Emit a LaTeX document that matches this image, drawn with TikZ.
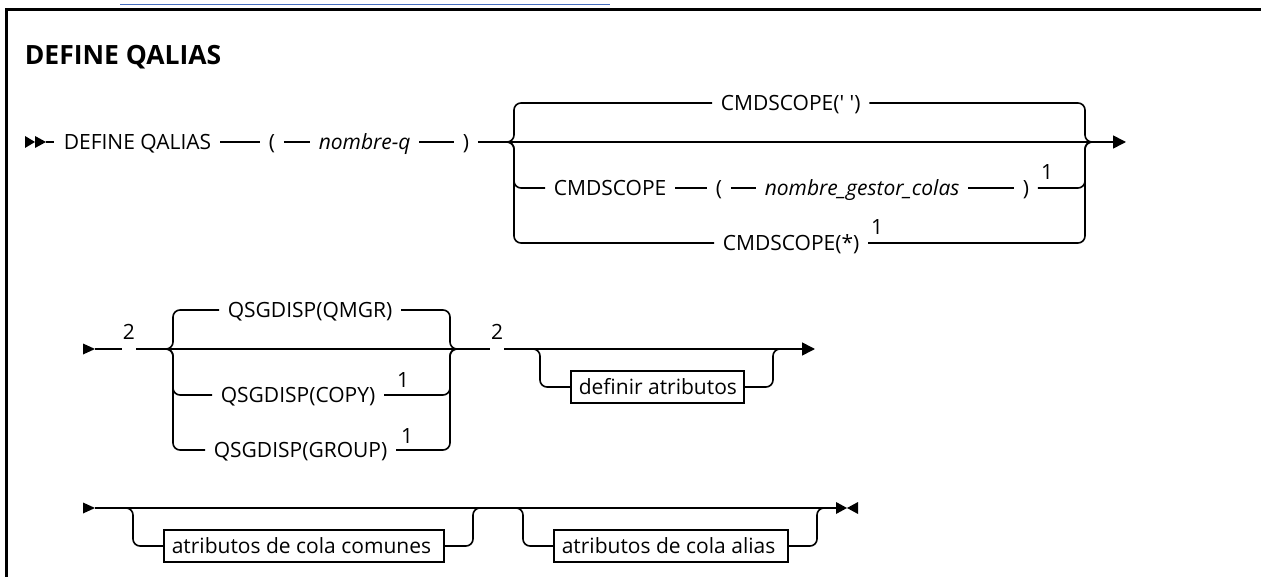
\documentclass[tikz,border=0pt]{standalone}
\usepackage{fontspec}
\setmainfont{Open Sans}
\usetikzlibrary{arrows.meta}
\definecolor{linkblue}{RGB}{70,110,190}
\newcommand{\boxtxt}[2]{\makebox[#1][l]{#2}}
\begin{document}
\begin{tikzpicture}[x=1pt,y=-1pt,
  line width=1.6pt,
  every node/.style={inner sep=0pt},
  t/.style={font=\fontsize{21}{25}\selectfont, anchor=west, text height=15pt, text depth=0pt},
  it/.style={font=\fontsize{21}{25}\selectfont\itshape, anchor=west, text height=15pt, text depth=0pt},
  fn/.style={font=\fontsize{21}{25}\selectfont, anchor=base},
  lbl/.style={font=\fontsize{21}{25}\selectfont, anchor=base, fill=white, text height=15pt, text depth=10pt, inner xsep=1pt},
  box/.style={draw, line width=1.6pt, anchor=west, font=\fontsize{21}{25}\selectfont, text height=15pt, text depth=0pt, inner xsep=8pt, minimum height=32pt},
  seg/.style={shorten <=8pt, shorten >=8pt},
  rc/.style={rounded corners=7pt},
  tip/.style={-{Triangle[length=13pt,width=13pt]}}
]
\useasboundingbox (0,0) rectangle (1261,577);
% frame and cut link underline
\draw[line width=2.5pt] (6.5,577) -- (6.5,9.7) -- (1261,9.7);
\draw[line width=1pt, linkblue] (120,5) -- (610,5);
% title
\node[font=\fontsize{26.5}{31}\selectfont\bfseries, anchor=base west] (title) at (24,65) {DEFINE QALIAS};

% ---------- row 1 ----------
\fill (25,136) -- (35,142) -- (25,148) -- cycle;
\fill (35,136) -- (46,142) -- (35,148) -- cycle;
\coordinate (s1) at (46,142);
\node[t] (dq) at (63,142) {DEFINE QALIAS};
\node[t] (lp1) at (268,142) {(};
\node[it] (nq) at (318,142) {nombre-q};
\node[t] (rp1) at (462,142) {)};
\coordinate (j1) at (507,142);
\coordinate (k1) at (1092,142);
\coordinate (e1) at (1126,142);
\draw[shorten >=9pt] (s1) -- (dq.west);
\draw[seg] (dq.east) -- (lp1.west);
\draw[seg] (lp1.east) -- (nq.west);
\draw[seg] (nq.east) -- (rp1.west);
\draw[shorten <=8pt] (rp1.east) -- (j1);
\draw[tip] (j1) -- (e1);

\node[t] (cs1) at (720,103) {CMDSCOPE(\textquotesingle\ \textquotesingle)};
\draw[rc, shorten >=8pt] (j1) -- (514,142) -- (514,103) -- (cs1.west);
\draw[rc, shorten <=8pt] (cs1.east) -- (1085,103) -- (1085,142) -- (k1);

\node[t] (cs2) at (553,188) {CMDSCOPE};
\node[t] (lp2) at (715,188) {(};
\node[it] (ngc) at (764,188) {nombre\_gestor\_colas};
\node[t] (rp2) at (1022,188) {)};
\draw[rc, shorten >=8pt] (j1) -- (514,142) -- (514,188) -- (cs2.west);
\draw[seg] (cs2.east) -- (lp2.west);
\draw[seg] (lp2.east) -- (ngc.west);
\draw[seg] (ngc.east) -- (rp2.west);
\draw[rc, shorten <=8pt] (rp2.east) -- (1085,188) -- (1085,142) -- (k1);
\node[fn] (f1) at (1047,180) {1};

\node[t] (cs3) at (722,243) {CMDSCOPE(*)};
\draw[rc, shorten >=8pt] (j1) -- (514,142) -- (514,243) -- (cs3.west);
\draw[rc, shorten <=8pt] (cs3.east) -- (1085,243) -- (1085,142) -- (k1);
\node[fn] (f2) at (877,235) {1};

% ---------- row 2 ----------
\fill (83,343.5) -- (95,349) -- (83,354.5) -- cycle;
\coordinate (s2) at (95,349);
\coordinate (j2) at (166,349);
\coordinate (k2) at (457,349);
\coordinate (j3) at (530,349);
\coordinate (k3) at (780,349);
\coordinate (e2) at (815,349);
\draw (s2) -- (j2);
\draw (j2) -- (k2);
\draw (k2) -- (j3);
\draw[tip] (j3) -- (e2);

\node[t] (q1) at (227,310) {QSGDISP(QMGR)};
\draw[rc, shorten >=8pt] (j2) -- (173,349) -- (173,310) -- (q1.west);
\draw[rc, shorten <=8pt] (q1.east) -- (450,310) -- (450,349) -- (k2);

\node[t] (q2) at (220,395) {QSGDISP(COPY)};
\draw[rc, shorten >=8pt] (j2) -- (173,349) -- (173,395) -- (q2.west);
\draw[rc, shorten <=8pt] (q2.east) -- (450,395) -- (450,349) -- (k2);
\node[fn] (f3) at (403,387) {1};

\node[t] (q3) at (213,450) {QSGDISP(GROUP)};
\draw[rc, shorten >=8pt] (j2) -- (173,349) -- (173,450) -- (q3.west);
\draw[rc, shorten <=8pt] (q3.east) -- (450,450) -- (450,349) -- (k2);
\node[fn] (f4) at (407,443) {1};

\node[box] (da) at (570,387) {\boxtxt{157pt}{definir atributos}};
\draw[rc] (j3) -- (540,349) -- (540,387) -- (da.west);
\draw[rc] (da.east) -- (773,387) -- (773,349) -- (k3);

\node[lbl] (n2a) at (129,340) {2};
\node[lbl] (n2b) at (497,340) {2};

% ---------- row 3 ----------
\fill (83,502.5) -- (95,508) -- (83,513.5) -- cycle;
\coordinate (s3) at (95,508);
\coordinate (j4) at (125,508);
\coordinate (k4) at (480,508);
\coordinate (j5) at (513,508);
\coordinate (k5) at (825,508);
\coordinate (e3) at (836,508);
\draw (s3) -- (e3);

\node[box] (ac) at (163,546) {\boxtxt{264pt}{atributos de cola comunes}};
\draw[rc] (j4) -- (133,508) -- (133,546) -- (ac.west);
\draw[rc] (ac.east) -- (473,546) -- (473,508) -- (k4);

\node[box] (aa) at (553,546) {\boxtxt{218pt}{atributos de cola alias}};
\draw[rc] (j5) -- (523,508) -- (523,546) -- (aa.west);
\draw[rc] (aa.east) -- (817,546) -- (817,508) -- (k5);

\fill (836,502) -- (847,508) -- (836,514) -- cycle;
\fill (858,502) -- (847,508) -- (858,514) -- cycle;
\end{tikzpicture}
\end{document}
